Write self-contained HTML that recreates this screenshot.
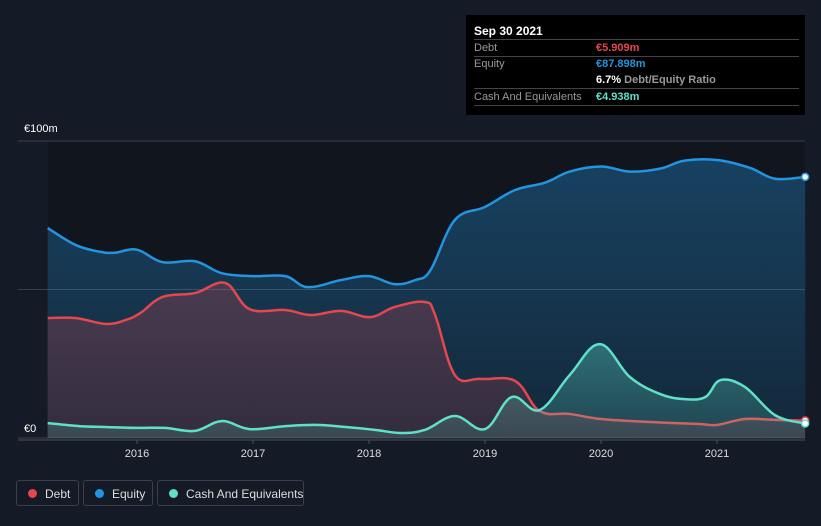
<!DOCTYPE html>
<html><head><meta charset="utf-8">
<style>
html,body{margin:0;background:#151b26;width:821px;height:526px;overflow:hidden;font-family:"Liberation Sans",sans-serif;}
svg{position:absolute;left:0;top:0}
.tip{position:absolute;left:466px;top:15px;width:339px;height:100px;background:#000;color:#fff;font-size:11px}
.row{position:absolute;left:8px;right:6px;border-bottom:1px solid #444;height:16px;line-height:16px;white-space:nowrap}
.lab{position:absolute;left:0;color:#999}
.val{position:absolute;left:122px;font-weight:bold}
.leg{position:absolute;top:480px;height:26px;border:1px solid #3a3f4a;border-radius:3px;color:#ddd;font-size:12px;line-height:26px;box-sizing:border-box;white-space:nowrap}
.leg i{position:absolute;left:11px;top:8px;width:9px;height:9px;border-radius:50%}
</style></head><body>
<svg width="821" height="526" id="chart"></svg>
<div class="tip">
 <div class="row" style="top:8px;border:none;font-weight:bold;font-size:12px">Sep 30 2021</div>
 <div class="row" style="top:24px;border-top:1px solid #444"><span class="lab">Debt</span><span class="val" style="color:#e5474f">€5.909m</span></div>
 <div class="row" style="top:41px;border:none"><span class="lab">Equity</span><span class="val" style="color:#2394df">€87.898m</span></div>
 <div class="row" style="top:57px"><span class="val">6.7% <span style="color:#999;font-weight:bold">Debt/Equity Ratio</span></span></div>
 <div class="row" style="top:74px"><span class="lab">Cash And Equivalents</span><span class="val" style="color:#5fe0c8">€4.938m</span></div>
</div>
<div class="leg" style="left:16px;width:63px"><i style="background:#e5474f"></i><span style="margin-left:28px">Debt</span></div>
<div class="leg" style="left:83px;width:70px"><i style="background:#2394df"></i><span style="margin-left:28px">Equity</span></div>
<div class="leg" style="left:157px;width:147px"><i style="background:#5fe0c8"></i><span style="margin-left:28px">Cash And Equivalents</span></div>
<script>
const yearTicks=[2016,2017,2018,2019,2020,2021];
const yTicks=[0,100];
const equityX=[2015.23,2015.47,2015.68,2015.81,2016,2016.22,2016.5,2016.73,2017,2017.28,2017.47,2017.76,2018,2018.22,2018.4,2018.53,2018.74,2019,2019.26,2019.52,2019.73,2020,2020.25,2020.51,2020.72,2021,2021.28,2021.5,2021.76];
const equityV=[70.7,65,62.7,62.4,63.4,59.2,59.5,55.5,54.5,54.5,50.8,53.2,54.5,51.8,53.2,56.5,73.4,77.8,83.5,86,89.7,91.4,89.7,90.7,93.4,93.6,91,87.3,87.9];
const debtX=[2015.23,2015.47,2015.73,2015.9,2016.03,2016.22,2016.5,2016.76,2016.97,2017.28,2017.5,2017.76,2018.01,2018.22,2018.48,2018.57,2018.74,2018.96,2019.26,2019.47,2019.73,2020,2020.42,2020.85,2021,2021.24,2021.5,2021.76];
const debtV=[40.4,40.4,38.4,39.7,42.1,47.5,48.8,52.2,43.4,43.1,41.4,42.8,40.7,44.1,45.8,41.4,21.2,19.9,19.2,9.1,8.1,6.4,5.4,4.7,4.4,6.4,6.1,5.9];
const cashX=[2015.23,2015.5,2015.72,2016,2016.24,2016.5,2016.73,2016.97,2017.28,2017.54,2017.8,2018.06,2018.27,2018.48,2018.74,2019,2019.23,2019.47,2019.73,2019.99,2020.25,2020.51,2020.72,2020.9,2021.03,2021.24,2021.5,2021.76];
const cashV=[5,4,3.7,3.4,3.4,2.4,5.7,3,4,4.4,3.7,2.7,1.7,2.7,7.4,3,13.8,9.4,21.2,31.6,20.5,14.8,13.1,13.8,19.5,17.2,7.7,4.9];
const NS="http://www.w3.org/2000/svg";
const svg=document.getElementById('chart');
const X=y=>137+(y-2016)*116, Y=v=>438-v*2.97;
function el(t,a,p){const e=document.createElementNS(NS,t);for(const k in a)e.setAttribute(k,a[k]);(p||svg).appendChild(e);return e;}
function path(xs,vs){const p=xs.map((x,i)=>[X(x),Y(vs[i])]);let d=`M${p[0][0]},${p[0][1]}`;
for(let i=0;i<p.length-1;i++){const p0=p[Math.max(i-1,0)],p1=p[i],p2=p[i+1],p3=p[Math.min(i+2,p.length-1)];const t=0.18;
d+=`C${p1[0]+(p2[0]-p0[0])*t},${p1[1]+(p2[1]-p0[1])*t} ${p2[0]-(p3[0]-p1[0])*t},${p2[1]-(p3[1]-p1[1])*t} ${p2[0]},${p2[1]}`;}return d;}
const defs=el('defs',{});
const gr=(id,c,a1,a2)=>{const g=el('linearGradient',{id,x1:0,y1:0,x2:0,y2:1},defs);el('stop',{offset:0,'stop-color':c,'stop-opacity':a1},g);el('stop',{offset:1,'stop-color':c,'stop-opacity':a2},g);};
gr('ge','#2394df',0.35,0.15);gr('gd','#e5474f',0.25,0.15);gr('gc','#5fe0c8',0.35,0.15);
const bg=el('rect',{x:48,y:141,width:757,height:297,fill:'#11151d'});

yTicks.concat([50]).forEach(v=>{const l=el('line',{x1:18,x2:805,y1:Y(v),y2:Y(v),stroke:'#3a3f4a','stroke-width':1});
});
yTicks.forEach(v=>{const t=el('text',{x:24,y:v?Y(v)-9:432,fill:'#fff','font-size':11});t.textContent=v?'€'+v+'m':'€0';
});
const base=Y(0);
[[equityX,equityV,'#2394df','ge','equity'],[debtX,debtV,'#e5474f','gd','debt'],[cashX,cashV,'#5fe0c8','gc','cash']].forEach(([xs,vs,c,g,n])=>{
const d=path(xs,vs);
const a=el('path',{d:d+`L${X(xs[xs.length-1])},${base}L${X(xs[0])},${base}Z`,fill:`url(#${g})`});

const l=el('path',{d,fill:'none',stroke:c,'stroke-width':2.5});

const m=el('circle',{cx:X(xs[xs.length-1]),cy:Y(vs[vs.length-1]),r:3.5,fill:'#fff',stroke:c,'stroke-width':1.5});
});
const ax=el('line',{x1:18,x2:805,y1:440,y2:440,stroke:'#4a505c'});

yearTicks.forEach(yr=>{const tk=el('line',{x1:X(yr),x2:X(yr),y1:440,y2:444,stroke:'#4a505c'});

const t=el('text',{x:X(yr),y:457,fill:'#ddd','font-size':11,'text-anchor':'middle'});t.textContent=yr;
});
</script>
</body></html>
